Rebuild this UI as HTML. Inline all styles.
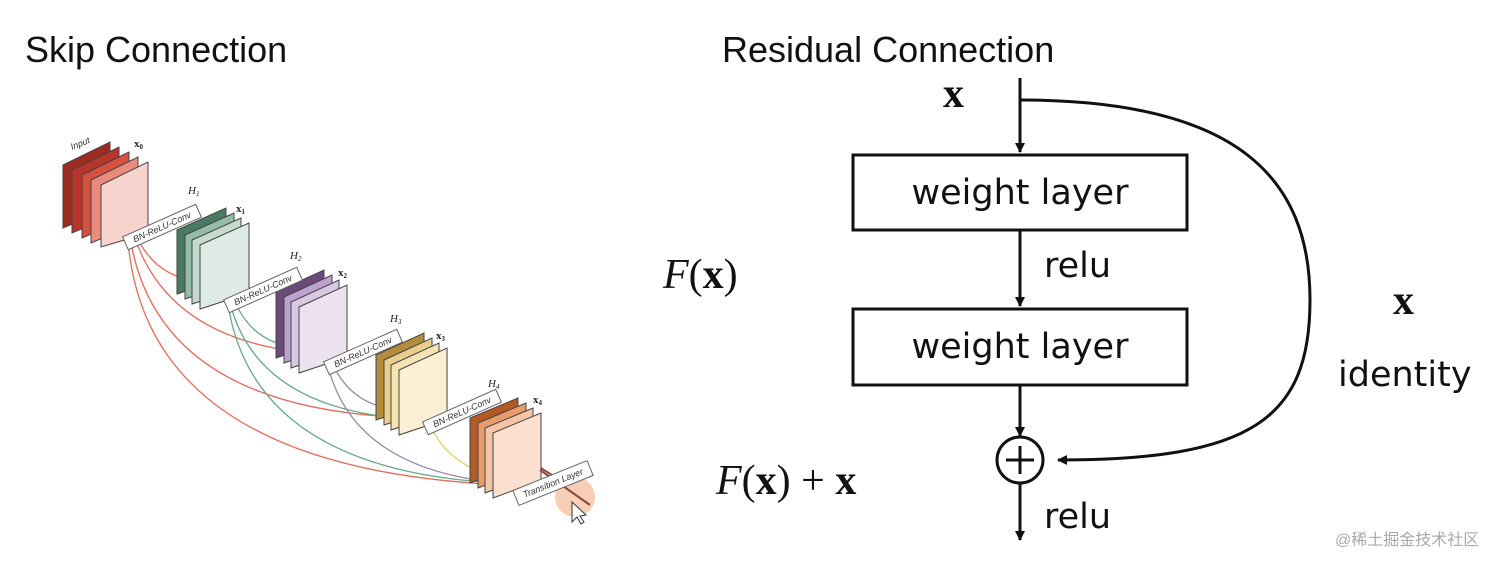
<!DOCTYPE html>
<html><head><meta charset="utf-8"><style>
html,body{margin:0;padding:0;background:#fff;}
body{width:1512px;height:565px;overflow:hidden;position:relative;font-family:"Liberation Sans",sans-serif;}
</style></head><body>
<svg width="1512" height="565" viewBox="0 0 1512 565" xmlns="http://www.w3.org/2000/svg" style="position:absolute;left:0;top:0">
<defs>
<marker id="ah" markerWidth="10" markerHeight="10" refX="9" refY="5" orient="auto" markerUnits="userSpaceOnUse"><path d="M0,0 L10,5 L0,10 Z" fill="#111"/></marker>
</defs>
<text x="25" y="62" font-size="36" font-family="Liberation Sans" fill="#111">Skip Connection</text>
<text x="722" y="62" font-size="36" font-family="Liberation Sans" fill="#111">Residual Connection</text>

<!-- curves -->
<g fill="none" stroke-width="1.3">
<path d="M127,205 Q140,275 200,282" stroke="#e46a5a"/>
<path d="M127,205 Q150,350 340,355" stroke="#e46a5a"/>
<path d="M127,205 Q135,420 440,418" stroke="#e46a5a"/>
<path d="M127,205 Q120,480 540,486" stroke="#e46a5a"/>
<path d="M225,270 Q240,345 300,347" stroke="#6aaa88"/>
<path d="M225,270 Q235,415 430,420" stroke="#6aaa88"/>
<path d="M225,270 Q230,480 530,484" stroke="#6aaa88"/>
<path d="M323,330 Q335,405 400,410" stroke="#9a8aaa"/>
<path d="M323,330 Q330,480 535,485" stroke="#9a8aaa"/>
<path d="M422,393 Q430,470 520,482" stroke="#e8d070"/>
<path d="M520,455 L560,480" stroke="#8a4a3a" stroke-width="2"/>
</g>

<!-- blocks -->
<g stroke="#444" stroke-width="1">
<!-- input -->
<polygon points="63,165 110,142 110,208 63,228" fill="#9e2a22"/>
<polygon points="72,170 119,147 119,213 72,233" fill="#b8352c"/>
<polygon points="82,175 129,152 129,218 82,238" fill="#d4503f"/>
<polygon points="91,180 138,157 138,223 91,243" fill="#ec8a7e"/>
<polygon points="101,185 148,162 148,233 101,247" fill="#f8d2cd"/>
<!-- green -->
<polygon points="177,230 226,208 226,278 177,294" fill="#4b7a64"/>
<polygon points="185,235 234,213 234,283 185,299" fill="#94bca9"/>
<polygon points="192,240 241,218 241,288 192,304" fill="#c3dacd"/>
<polygon points="200,245 249,223 249,293 200,309" fill="#deece5"/>
<!-- purple -->
<polygon points="276,292 324,270 324,342 276,358" fill="#6a4a7a"/>
<polygon points="284,297 332,275 332,347 284,363" fill="#bca2cc"/>
<polygon points="291,302 339,280 339,352 291,368" fill="#d9c8e2"/>
<polygon points="299,307 347,285 347,357 299,373" fill="#ece2f0"/>
<!-- yellow -->
<polygon points="376,355 424,333 424,404 376,420" fill="#b38c3c"/>
<polygon points="384,360 432,338 432,409 384,425" fill="#e8cf8c"/>
<polygon points="391,365 439,343 439,414 391,430" fill="#f4e4b4"/>
<polygon points="399,370 447,348 447,419 399,435" fill="#fbf0d4"/>
<!-- orange -->
<polygon points="470,418 518,398 518,465 470,483" fill="#b55a22"/>
<polygon points="478,423 526,403 526,470 478,488" fill="#e89c6c"/>
<polygon points="485,428 533,408 533,475 485,493" fill="#f5c4a4"/>
<polygon points="493,433 541,413 541,480 493,498" fill="#fbe0d0"/>
</g>
<circle cx="575" cy="497" r="20" fill="#f6c2a4" opacity="0.8"/>
<path d="M540,470 L590,505" stroke="#8a4a3a" stroke-width="2"/>
<path d="M572,502 L572,522 L577,517 L581,524 L584,522 L580,516 L586,515 Z" fill="#fff" stroke="#333" stroke-width="1"/>

<!-- label boxes -->
<g font-family="Liberation Sans" font-style="italic" font-size="9" fill="#333">
<g transform="translate(162,227) rotate(-24)"><rect x="-40" y="-7" width="80" height="14" fill="#fff" stroke="#666"/><text x="0" y="3" text-anchor="middle">BN-ReLU-Conv</text></g>
<g transform="translate(263,290) rotate(-24)"><rect x="-40" y="-7" width="80" height="14" fill="#fff" stroke="#666"/><text x="0" y="3" text-anchor="middle">BN-ReLU-Conv</text></g>
<g transform="translate(363,352) rotate(-24)"><rect x="-40" y="-7" width="80" height="14" fill="#fff" stroke="#666"/><text x="0" y="3" text-anchor="middle">BN-ReLU-Conv</text></g>
<g transform="translate(462,412) rotate(-24)"><rect x="-40" y="-7" width="80" height="14" fill="#fff" stroke="#666"/><text x="0" y="3" text-anchor="middle">BN-ReLU-Conv</text></g>
<g transform="translate(553,483) rotate(-22)"><rect x="-40" y="-8" width="80" height="16" fill="#fff" stroke="#666"/><text x="0" y="3" text-anchor="middle">Transition Layer</text></g>
<text x="72" y="150" transform="rotate(-22 72 150)">Input</text>
</g>
<g font-family="Liberation Serif" font-size="11" fill="#222">
<text x="188" y="194" font-style="italic">H<tspan font-size="7" dy="2">1</tspan></text>
<text x="290" y="259" font-style="italic">H<tspan font-size="7" dy="2">2</tspan></text>
<text x="390" y="322" font-style="italic">H<tspan font-size="7" dy="2">3</tspan></text>
<text x="488" y="387" font-style="italic">H<tspan font-size="7" dy="2">4</tspan></text>
<g font-weight="bold">
<text x="134" y="147">x<tspan font-size="7" dy="2">0</tspan></text>
<text x="236" y="212">x<tspan font-size="7" dy="2">1</tspan></text>
<text x="338" y="276">x<tspan font-size="7" dy="2">2</tspan></text>
<text x="436" y="339">x<tspan font-size="7" dy="2">3</tspan></text>
<text x="533" y="403">x<tspan font-size="7" dy="2">4</tspan></text>
</g>
</g>

<!-- residual -->
<g stroke="#111" stroke-width="3" fill="none">
<line x1="1020" y1="78" x2="1020" y2="152" marker-end="url(#ah)"/>
<line x1="1020" y1="231" x2="1020" y2="306" marker-end="url(#ah)"/>
<line x1="1020" y1="386" x2="1020" y2="436" marker-end="url(#ah)"/>
<line x1="1020" y1="484" x2="1020" y2="540" marker-end="url(#ah)"/>
<rect x="853" y="155" width="334" height="75"/>
<rect x="853" y="309" width="334" height="76"/>
<circle cx="1020" cy="460" r="23"/>
<line x1="1020" y1="446" x2="1020" y2="474"/>
<line x1="1006" y1="460" x2="1034" y2="460"/>
<path d="M1020,100 C1240,100 1310,180 1310,300 C1310,420 1250,460 1058,460" marker-end="url(#ah)"/>
</g>
<g font-family="DejaVu Sans" font-size="35" fill="#111">
<text x="1020" y="204" text-anchor="middle">weight layer</text>
<text x="1020" y="358" text-anchor="middle">weight layer</text>
<text x="1044" y="277">relu</text>
<text x="1044" y="528">relu</text>
<text x="1338" y="386">identity</text>
</g>
<g font-family="Liberation Serif" font-size="42" fill="#111">
<text x="943" y="107" font-weight="bold">x</text>
<text x="1393" y="314" font-weight="bold">x</text>
<text x="663" y="288"><tspan font-style="italic">F</tspan>(<tspan font-weight="bold">x</tspan>)</text>
<text x="716" y="494"><tspan font-style="italic">F</tspan>(<tspan font-weight="bold">x</tspan>) + <tspan font-weight="bold">x</tspan></text>
</g>
<text x="1335" y="545" font-size="16" fill="#aaa" font-family="Liberation Sans, Noto Sans CJK SC, sans-serif">@稀土掘金技术社区</text>
</svg>
</body></html>
